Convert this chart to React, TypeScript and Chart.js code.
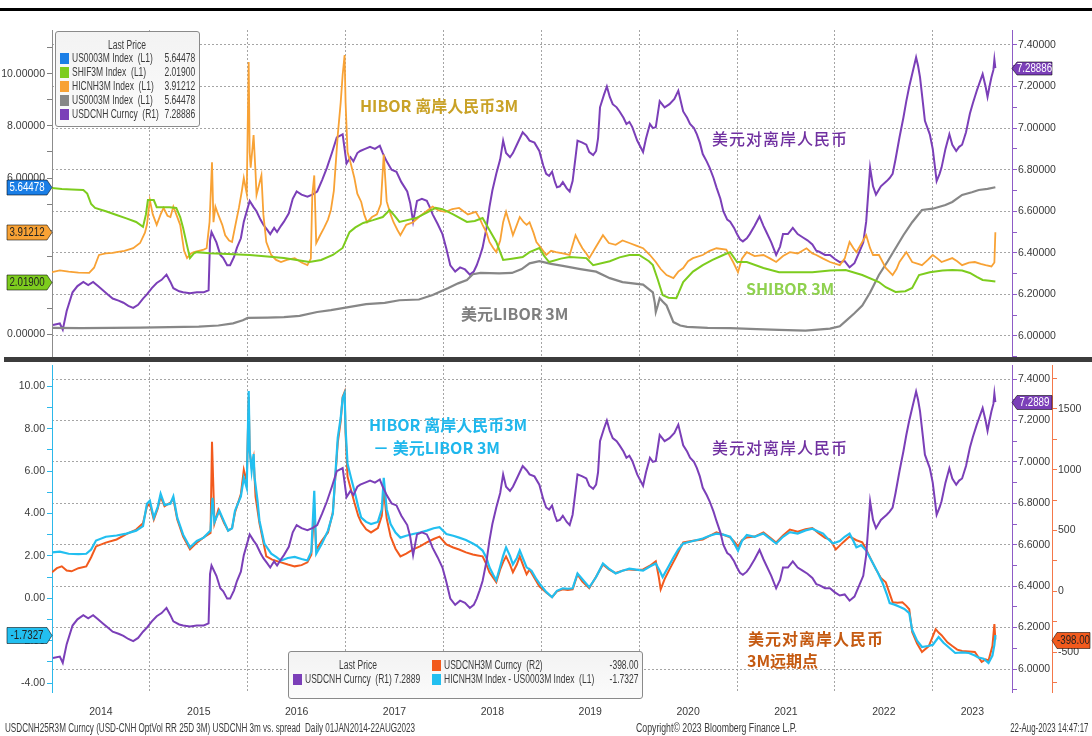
import React, { useEffect, useLayoutEffect, useRef, useState } from 'react';
import { Chart, registerables } from 'chart.js';

Chart.register(...registerables);

const SANS = '"Liberation Sans", Arial, "DejaVu Sans", sans-serif';
const CJK = '"Noto Sans CJK SC", "Noto Sans", sans-serif';

// ---------------- X axis ----------------
const X_MIN = 2014.0;
const X_MAX = 2023.81;
const YEAR_LINES = [2015, 2016, 2017, 2018, 2019, 2020, 2021, 2022, 2023];
const YEAR_LABEL_POS = [2014.5, 2015.5, 2016.5, 2017.5, 2018.5, 2019.5, 2020.5, 2021.5, 2022.5, 2023.405];
const YEAR_LABELS = ['2014', '2015', '2016', '2017', '2018', '2019', '2020', '2021', '2022', '2023'];

// ---------------- Y axes ----------------
const TOP_L_TICKS = [0, 1, 2, 3, 4, 5, 6, 7, 8, 9, 10, 11];
const TOP_R_TICKS = [5.9, 6.0, 6.1, 6.2, 6.3, 6.4, 6.5, 6.6, 6.7, 6.8, 6.9, 7.0, 7.1, 7.2, 7.3, 7.4];
const BOT_L_TICKS = [-4, -3, -2, -1, 0, 1, 2, 3, 4, 5, 6, 7, 8, 9, 10];
const BOT_R_TICKS = [5.9, 6.0, 6.1, 6.2, 6.3, 6.4, 6.5, 6.6, 6.7, 6.8, 6.9, 7.0, 7.1, 7.2, 7.3, 7.4];
const BOT_R2_TICKS = [-750, -500, -250, 0, 250, 500, 750, 1000, 1250, 1500, 1750];

// ---------------- USDCNH (R1) ----------------
const cnhX = [
  2014.01, 2014.08, 2014.11, 2014.15, 2014.21, 2014.26, 2014.32, 2014.37, 2014.42, 2014.47, 2014.52, 2014.57, 2014.62, 2014.68,
  2014.73, 2014.78, 2014.83, 2014.88, 2014.93, 2014.97, 2015.02, 2015.07, 2015.12, 2015.17, 2015.21, 2015.24, 2015.30, 2015.34,
  2015.41, 2015.48, 2015.55, 2015.60, 2015.615, 2015.63, 2015.68, 2015.72, 2015.75, 2015.79, 2015.82, 2015.86, 2015.89, 2015.93,
  2015.96, 2016.02, 2016.06, 2016.09, 2016.13, 2016.16, 2016.20, 2016.23, 2016.27, 2016.30, 2016.34, 2016.37, 2016.42, 2016.46,
  2016.50, 2016.55, 2016.61, 2016.66, 2016.71, 2016.76, 2016.81, 2016.86, 2016.91, 2016.97, 2017.01, 2017.05, 2017.08, 2017.12,
  2017.15, 2017.20, 2017.25, 2017.30, 2017.35, 2017.38, 2017.42, 2017.47, 2017.52, 2017.57, 2017.63, 2017.66, 2017.69, 2017.73,
  2017.78, 2017.83, 2017.86, 2017.89, 2017.94, 2017.99, 2018.03, 2018.07, 2018.12, 2018.17, 2018.22, 2018.27, 2018.31, 2018.34,
  2018.37, 2018.40, 2018.44, 2018.47, 2018.50, 2018.54, 2018.58, 2018.61, 2018.64, 2018.68, 2018.71, 2018.75, 2018.78, 2018.81,
  2018.85, 2018.88, 2018.93, 2018.98, 2019.02, 2019.05, 2019.08, 2019.11, 2019.14, 2019.16, 2019.19, 2019.22, 2019.26, 2019.29,
  2019.32, 2019.35, 2019.37, 2019.42, 2019.46, 2019.49, 2019.53, 2019.56, 2019.58, 2019.60, 2019.64, 2019.67, 2019.70, 2019.73,
  2019.77, 2019.80, 2019.84, 2019.87, 2019.90, 2019.93, 2019.98, 2020.04, 2020.07, 2020.11, 2020.14, 2020.17, 2020.21, 2020.26,
  2020.31, 2020.36, 2020.40, 2020.43, 2020.45, 2020.49, 2020.52, 2020.56, 2020.59, 2020.62, 2020.65, 2020.69, 2020.72, 2020.76,
  2020.79, 2020.83, 2020.86, 2020.90, 2020.93, 2020.97, 2021.00, 2021.03, 2021.06, 2021.10, 2021.13, 2021.18, 2021.23, 2021.27,
  2021.30, 2021.35, 2021.40, 2021.44, 2021.47, 2021.52, 2021.57, 2021.62, 2021.67, 2021.72, 2021.77, 2021.81, 2021.84, 2021.90,
  2021.95, 2022.00, 2022.05, 2022.10, 2022.15, 2022.20, 2022.25, 2022.29, 2022.32, 2022.36, 2022.39, 2022.42, 2022.47, 2022.53,
  2022.56, 2022.59, 2022.62, 2022.66, 2022.70, 2022.73, 2022.76, 2022.79, 2022.83, 2022.85, 2022.87, 2022.90, 2022.92, 2022.97,
  2023.00, 2023.04, 2023.07, 2023.09, 2023.13, 2023.17, 2023.20, 2023.24, 2023.27, 2023.30, 2023.34, 2023.38, 2023.41, 2023.45,
  2023.48, 2023.51, 2023.54, 2023.56, 2023.58, 2023.60, 2023.62, 2023.63, 2023.64,
];
const cnhY = [
  6.053, 6.06, 6.03, 6.12, 6.21, 6.24, 6.26, 6.245, 6.26, 6.24, 6.22, 6.20, 6.18, 6.17,
  6.16, 6.145, 6.135, 6.15, 6.18, 6.20, 6.23, 6.255, 6.27, 6.295, 6.26, 6.23, 6.215, 6.21,
  6.205, 6.21, 6.21, 6.22, 6.46, 6.50, 6.45, 6.39, 6.375, 6.34, 6.34, 6.38, 6.425, 6.47,
  6.55, 6.65, 6.62, 6.60, 6.56, 6.535, 6.51, 6.49, 6.52, 6.50, 6.53, 6.55, 6.59, 6.66,
  6.695, 6.68, 6.67, 6.68, 6.695, 6.75, 6.81, 6.88, 6.955, 6.97, 6.83, 6.86, 6.84, 6.88,
  6.89, 6.90, 6.91, 6.90, 6.915, 6.88, 6.84, 6.80, 6.79, 6.74, 6.695, 6.64, 6.55, 6.65,
  6.66, 6.65, 6.62, 6.585, 6.54, 6.49, 6.42, 6.34, 6.31, 6.33, 6.32, 6.295, 6.31, 6.34,
  6.38, 6.425, 6.52, 6.62, 6.70, 6.78, 6.85, 6.94, 6.88, 6.86, 6.88, 6.92, 6.95, 6.98,
  6.96, 6.94, 6.93, 6.89, 6.82, 6.78, 6.77, 6.79, 6.74, 6.715, 6.72, 6.74, 6.71, 6.695,
  6.745, 6.86, 6.94, 6.93, 6.92, 6.885, 6.87, 6.89, 6.95, 7.10, 7.16, 7.20, 7.15, 7.115,
  7.10, 7.08, 7.05, 7.02, 7.03, 7.005, 6.94, 6.885, 6.95, 7.02, 7.00, 7.005, 7.13, 7.10,
  7.115, 7.14, 7.18, 7.12, 7.08, 7.05, 7.02, 7.00, 6.97, 6.93, 6.875, 6.84, 6.81, 6.76,
  6.715, 6.66, 6.60, 6.56, 6.55, 6.52, 6.49, 6.465, 6.455, 6.47, 6.49, 6.53, 6.575, 6.53,
  6.50, 6.45, 6.39, 6.43, 6.49, 6.49, 6.52, 6.49, 6.475, 6.46, 6.44, 6.41, 6.405, 6.39,
  6.39, 6.37, 6.355, 6.36, 6.33, 6.35, 6.405, 6.45, 6.55, 6.81, 6.72, 6.68, 6.72, 6.745,
  6.76, 6.78, 6.85, 6.955, 7.05, 7.13, 7.20, 7.26, 7.34, 7.30, 7.245, 7.12, 7.035, 6.97,
  6.90, 6.745, 6.78, 6.81, 6.90, 6.97, 6.92, 6.89, 6.91, 6.92, 6.98, 7.07, 7.12, 7.18,
  7.22, 7.26, 7.20, 7.15, 7.20, 7.245, 7.28, 7.33, 7.28886,
];

// ---------------- HICNH3M (L1, top) ----------------
const hiborX = [
  2014.00, 2014.08, 2014.17, 2014.27, 2014.38, 2014.43, 2014.48, 2014.55, 2014.62, 2014.66, 2014.74, 2014.83, 2014.90, 2014.95,
  2014.97, 2015.00, 2015.03, 2015.07, 2015.11, 2015.14, 2015.18, 2015.21, 2015.24, 2015.27, 2015.31, 2015.35, 2015.38, 2015.42,
  2015.45, 2015.50, 2015.55, 2015.58, 2015.61, 2015.635, 2015.65, 2015.67, 2015.70, 2015.74, 2015.77, 2015.81, 2015.84, 2015.88,
  2015.91, 2015.94, 2015.96, 2015.99, 2016.00, 2016.01, 2016.02, 2016.03, 2016.05, 2016.06, 2016.08, 2016.09, 2016.12, 2016.14,
  2016.16, 2016.19, 2016.24, 2016.29, 2016.34, 2016.40, 2016.48, 2016.55, 2016.61, 2016.645, 2016.66, 2016.68, 2016.70, 2016.74,
  2016.78, 2016.82, 2016.85, 2016.88, 2016.92, 2016.95, 2016.97, 2016.99, 2017.00, 2017.02, 2017.05, 2017.09, 2017.12, 2017.16,
  2017.19, 2017.22, 2017.27, 2017.32, 2017.36, 2017.39, 2017.42, 2017.46, 2017.49, 2017.53, 2017.56, 2017.62, 2017.69, 2017.75,
  2017.82, 2017.89, 2017.95, 2018.02, 2018.09, 2018.16, 2018.25, 2018.33, 2018.37, 2018.40, 2018.44, 2018.47, 2018.51, 2018.54,
  2018.58, 2018.61, 2018.64, 2018.68, 2018.71, 2018.75, 2018.78, 2018.82, 2018.85, 2018.88, 2018.92, 2018.95, 2019.00, 2019.05,
  2019.10, 2019.15, 2019.22, 2019.29, 2019.35, 2019.39, 2019.42, 2019.46, 2019.49, 2019.55, 2019.63, 2019.69, 2019.76, 2019.83,
  2019.90, 2019.97, 2020.04, 2020.11, 2020.17, 2020.22, 2020.28, 2020.35, 2020.40, 2020.45, 2020.50, 2020.55, 2020.65, 2020.72,
  2020.79, 2020.89, 2020.96, 2021.01, 2021.05, 2021.10, 2021.18, 2021.27, 2021.34, 2021.40, 2021.47, 2021.54, 2021.62, 2021.71,
  2021.77, 2021.81, 2021.88, 2021.95, 2022.05, 2022.10, 2022.15, 2022.19, 2022.22, 2022.28, 2022.32, 2022.36, 2022.39, 2022.45,
  2022.52, 2022.59, 2022.63, 2022.66, 2022.73, 2022.79, 2022.85, 2022.89, 2022.95, 2023.00, 2023.05, 2023.09, 2023.15, 2023.20,
  2023.25, 2023.30, 2023.37, 2023.43, 2023.49, 2023.54, 2023.60, 2023.63, 2023.64,
];
const hiborY = [
  2.38, 2.45, 2.40, 2.36, 2.35, 2.55, 3.04, 3.10, 3.12, 3.15, 3.20, 3.30, 3.50, 3.90,
  4.20, 5.15, 4.60, 4.20, 4.60, 4.85, 4.55, 4.50, 4.90, 4.60, 4.20, 3.20, 2.92, 3.10,
  3.15, 3.20, 3.25, 3.30, 4.30, 6.60, 4.30, 4.90, 4.58, 4.20, 3.80, 3.60, 3.54, 4.30,
  4.85, 5.50, 6.00, 5.40, 8.00, 10.46, 7.00, 6.40, 7.20, 7.65, 6.20, 5.35, 5.80, 6.10,
  4.60, 3.54, 3.04, 2.85, 2.77, 2.85, 2.92, 2.75, 2.65, 2.90, 5.35, 6.10, 3.50, 3.80,
  4.08, 4.40, 4.77, 5.50, 7.65, 8.90, 9.96, 10.73, 8.90, 7.00, 6.60, 6.00, 5.40, 5.08,
  4.60, 4.30, 4.50, 4.60, 5.00, 6.90, 5.10, 4.60, 4.30, 4.00, 3.80, 4.20, 4.30, 4.50,
  4.70, 4.90, 4.75, 4.70, 4.80, 4.85, 4.60, 4.70, 4.45, 4.20, 3.90, 3.54, 3.30, 3.15,
  3.60, 4.30, 4.70, 4.20, 3.80, 4.20, 4.50, 4.30, 4.20, 4.30, 3.90, 3.54, 3.30, 3.04,
  3.20, 3.15, 3.10, 3.04, 3.80, 3.50, 3.30, 3.10, 2.92, 3.30, 3.80, 3.50, 3.43, 3.60,
  3.50, 3.40, 3.30, 3.04, 2.77, 2.50, 2.27, 2.15, 2.40, 2.54, 2.80, 2.92, 3.04, 3.20,
  3.30, 3.25, 2.77, 2.38, 2.90, 3.15, 3.00, 3.04, 2.90, 2.77, 3.00, 3.15, 3.10, 3.30,
  3.10, 3.04, 2.90, 2.77, 2.65, 2.90, 3.54, 3.30, 3.15, 3.54, 3.80, 3.30, 3.04, 3.04,
  2.54, 2.27, 2.50, 2.77, 3.15, 2.77, 2.70, 2.65, 2.85, 3.04, 2.90, 2.77, 2.85, 2.92,
  2.80, 2.65, 2.75, 2.77, 2.70, 2.65, 2.60, 2.75, 3.91212,
];

// ---------------- SHIF3M (L1, top) ----------------
const shiborX = [
  2014.00, 2014.10, 2014.20, 2014.32, 2014.36, 2014.40, 2014.44, 2014.55, 2014.66, 2014.76, 2014.86, 2014.93, 2014.96, 2014.98,
  2015.04, 2015.07, 2015.20, 2015.27, 2015.31, 2015.34, 2015.38, 2015.41, 2015.45, 2015.48, 2015.61, 2015.80, 2016.02, 2016.20,
  2016.37, 2016.50, 2016.63, 2016.75, 2016.87, 2016.97, 2017.04, 2017.10, 2017.18, 2017.28, 2017.38, 2017.45, 2017.50, 2017.55,
  2017.63, 2017.72, 2017.82, 2017.92, 2017.99, 2018.10, 2018.24, 2018.32, 2018.40, 2018.47, 2018.54, 2018.61, 2018.70, 2018.81,
  2018.88, 2018.98, 2019.03, 2019.08, 2019.20, 2019.29, 2019.46, 2019.53, 2019.70, 2019.80, 2019.90, 2020.00, 2020.10, 2020.14,
  2020.19, 2020.24, 2020.30, 2020.38, 2020.45, 2020.55, 2020.65, 2020.75, 2020.86, 2020.93, 2021.00, 2021.10, 2021.27, 2021.43,
  2021.60, 2021.77, 2021.95, 2022.11, 2022.28, 2022.45, 2022.52, 2022.62, 2022.72, 2022.79, 2022.86, 2022.97, 2023.10, 2023.20,
  2023.30, 2023.38, 2023.45, 2023.51, 2023.58, 2023.64,
];
const shiborY = [
  5.62, 5.58, 5.56, 5.54, 5.40, 5.00, 4.85, 4.72, 4.58, 4.45, 4.31, 4.12, 4.60, 5.15,
  5.15, 4.88, 4.88, 4.85, 4.50, 4.08, 3.40, 2.92, 3.10, 3.15, 3.11, 3.08, 3.04, 2.98,
  2.92, 2.85, 2.77, 2.85, 3.04, 3.31, 3.92, 4.10, 4.27, 4.38, 4.50, 4.77, 4.55, 4.31,
  4.38, 4.46, 4.65, 4.85, 4.80, 4.60, 4.31, 4.35, 4.46, 4.00, 3.54, 2.85, 2.90, 2.96,
  3.15, 3.31, 3.00, 2.77, 2.90, 2.96, 2.92, 2.65, 2.80, 2.95, 3.04, 3.04, 2.80, 2.65,
  2.10, 1.50, 1.40, 1.38, 2.00, 2.40, 2.65, 2.85, 3.04, 3.15, 2.77, 2.77, 2.54, 2.38,
  2.38, 2.38, 2.44, 2.46, 2.27, 2.00, 1.80, 1.62, 1.65, 1.77, 2.27, 2.38, 2.44, 2.46,
  2.44, 2.35, 2.20, 2.08, 2.05, 2.019,
];

// ---------------- US0003M (L1, top) ----------------
const liborX = [
  2014.00, 2014.30, 2014.60, 2014.90, 2015.20, 2015.50, 2015.70, 2015.85, 2015.95, 2016.00, 2016.20, 2016.37, 2016.53, 2016.71,
  2016.85, 2016.97, 2017.21, 2017.40, 2017.55, 2017.75, 2017.89, 2018.05, 2018.15, 2018.24, 2018.30, 2018.38, 2018.57, 2018.70,
  2018.80, 2018.88, 2018.98, 2019.10, 2019.22, 2019.40, 2019.56, 2019.70, 2019.83, 2020.04, 2020.14, 2020.16, 2020.17, 2020.19,
  2020.21, 2020.24, 2020.28, 2020.35, 2020.42, 2020.49, 2020.70, 2020.93, 2021.20, 2021.43, 2021.70, 2021.95, 2022.05, 2022.11,
  2022.20, 2022.28, 2022.36, 2022.45, 2022.54, 2022.62, 2022.70, 2022.79, 2022.89, 2023.00, 2023.13, 2023.20, 2023.30, 2023.40,
  2023.47, 2023.56, 2023.64,
];
const liborY = [
  0.24, 0.23, 0.24, 0.25, 0.27, 0.29, 0.33, 0.41, 0.53, 0.62, 0.63, 0.65, 0.70, 0.85,
  0.92, 1.00, 1.15, 1.20, 1.30, 1.33, 1.50, 1.77, 1.95, 2.08, 2.30, 2.35, 2.33, 2.35,
  2.50, 2.72, 2.80, 2.70, 2.62, 2.50, 2.40, 2.15, 2.00, 1.90, 1.60, 1.20, 0.85, 1.10,
  1.38, 1.25, 1.10, 0.46, 0.33, 0.28, 0.24, 0.23, 0.19, 0.16, 0.13, 0.21, 0.30, 0.50,
  0.80, 1.10, 1.60, 2.27, 2.80, 3.30, 3.80, 4.30, 4.77, 4.82, 4.96, 5.08, 5.35, 5.45,
  5.54, 5.58, 5.64478,
];

// ---------------- HICNH3M - US0003M (L1, bottom) ----------------
const spreadX = [
  2014.00, 2014.08, 2014.17, 2014.27, 2014.35, 2014.40, 2014.45, 2014.55, 2014.66, 2014.76, 2014.86, 2014.93, 2014.97, 2015.00,
  2015.04, 2015.08, 2015.11, 2015.15, 2015.21, 2015.24, 2015.28, 2015.34, 2015.41, 2015.48, 2015.55, 2015.62, 2015.64, 2015.66,
  2015.71, 2015.76, 2015.80, 2015.84, 2015.87, 2015.93, 2015.96, 2015.99, 2016.01, 2016.02, 2016.04, 2016.06, 2016.07, 2016.10,
  2016.12, 2016.17, 2016.24, 2016.29, 2016.34, 2016.41, 2016.48, 2016.55, 2016.61, 2016.65, 2016.68, 2016.70, 2016.76, 2016.82,
  2016.87, 2016.92, 2016.95, 2016.97, 2016.99, 2017.00, 2017.02, 2017.06, 2017.09, 2017.13, 2017.16, 2017.21, 2017.26, 2017.33,
  2017.37, 2017.39, 2017.42, 2017.46, 2017.51, 2017.56, 2017.62, 2017.69, 2017.76, 2017.83, 2017.90, 2017.96, 2018.03, 2018.10,
  2018.16, 2018.23, 2018.30, 2018.35, 2018.40, 2018.44, 2018.47, 2018.51, 2018.54, 2018.58, 2018.61, 2018.64, 2018.68, 2018.71,
  2018.75, 2018.78, 2018.82, 2018.85, 2018.90, 2018.95, 2018.98, 2019.05, 2019.11, 2019.16, 2019.22, 2019.27, 2019.32, 2019.37,
  2019.42, 2019.49, 2019.56, 2019.63, 2019.69, 2019.76, 2019.83, 2019.90, 2019.97, 2020.04, 2020.11, 2020.17, 2020.21, 2020.24,
  2020.30, 2020.35, 2020.40, 2020.45, 2020.55, 2020.65, 2020.72, 2020.79, 2020.86, 2020.93, 2020.97, 2021.01, 2021.05, 2021.10,
  2021.18, 2021.27, 2021.34, 2021.40, 2021.47, 2021.54, 2021.62, 2021.70, 2021.77, 2021.83, 2021.88, 2021.93, 2021.98, 2022.05,
  2022.10, 2022.15, 2022.19, 2022.22, 2022.27, 2022.32, 2022.36, 2022.39, 2022.44, 2022.49, 2022.53, 2022.56, 2022.61, 2022.66,
  2022.71, 2022.76, 2022.79, 2022.84, 2022.89, 2022.95, 2023.00, 2023.06, 2023.11, 2023.16, 2023.23, 2023.30, 2023.37, 2023.43,
  2023.47, 2023.52, 2023.57, 2023.61, 2023.63, 2023.64,
];
const spreadY = [
  2.16, 2.20, 2.10, 2.08, 2.10, 2.30, 2.72, 2.90, 2.96, 3.05, 3.19, 3.40, 4.46, 4.60,
  3.80, 4.30, 4.93, 4.40, 4.46, 4.80, 3.80, 3.00, 2.40, 2.70, 2.86, 3.19, 4.74, 3.60,
  4.13, 3.60, 3.19, 3.30, 4.13, 4.80, 5.68, 5.20, 9.77, 7.00, 6.00, 6.80, 5.70, 4.60,
  3.66, 2.58, 2.10, 1.95, 1.78, 1.90, 1.95, 1.85, 1.78, 2.20, 5.07, 2.10, 2.60, 3.19,
  4.00, 7.56, 8.50, 9.44, 9.67, 8.00, 6.34, 5.60, 5.07, 4.30, 3.80, 3.60, 3.50, 3.60,
  4.20, 5.68, 4.20, 3.50, 3.10, 2.86, 2.95, 3.03, 3.10, 3.19, 3.30, 3.35, 3.03, 2.95,
  2.86, 2.75, 2.58, 2.45, 2.25, 1.90, 1.46, 1.10, 0.85, 1.50, 2.00, 2.40, 2.00, 1.60,
  1.90, 2.25, 1.80, 1.46, 1.30, 0.90, 0.70, 0.30, 0.05, 0.35, 0.47, 0.45, 0.47, 1.17,
  0.90, 0.52, 1.00, 1.64, 1.40, 1.17, 1.30, 1.40, 1.35, 1.30, 1.50, 1.64, 1.30, 1.00,
  1.50, 1.92, 2.30, 2.58, 2.70, 2.82, 2.95, 3.05, 3.00, 2.90, 2.60, 2.25, 2.70, 2.98,
  2.90, 3.05, 2.80, 2.58, 2.90, 3.12, 3.05, 3.20, 3.28, 3.15, 3.05, 2.80, 2.58, 2.70,
  2.90, 3.05, 2.70, 2.40, 2.50, 2.25, 1.90, 1.64, 1.20, 0.70, 0.20, -0.23, -0.30, -0.40,
  -0.50, -0.70, -1.50, -2.00, -2.30, -2.25, -2.20, -1.83, -2.10, -2.30, -2.58, -2.55, -2.58, -2.70,
  -2.80, -2.85, -3.05, -2.70, -2.20, -1.7327,
];

// ---------------- USDCNH3M forward points (R2, bottom) ----------------
const fwdX = [
  2014.00, 2014.05, 2014.10, 2014.15, 2014.20, 2014.27, 2014.35, 2014.40, 2014.45, 2014.55, 2014.66, 2014.76, 2014.86, 2014.93,
  2014.97, 2015.00, 2015.04, 2015.08, 2015.11, 2015.15, 2015.21, 2015.24, 2015.28, 2015.34, 2015.41, 2015.48, 2015.55, 2015.62,
  2015.635, 2015.66, 2015.70, 2015.76, 2015.80, 2015.84, 2015.87, 2015.93, 2015.96, 2015.99, 2016.01, 2016.02, 2016.04, 2016.06,
  2016.08, 2016.12, 2016.19, 2016.25, 2016.34, 2016.41, 2016.48, 2016.55, 2016.61, 2016.65, 2016.68, 2016.70, 2016.76, 2016.82,
  2016.87, 2016.92, 2016.95, 2016.97, 2016.99, 2017.00, 2017.02, 2017.06, 2017.09, 2017.13, 2017.16, 2017.21, 2017.26, 2017.33,
  2017.37, 2017.39, 2017.42, 2017.46, 2017.51, 2017.56, 2017.62, 2017.69, 2017.76, 2017.83, 2017.90, 2017.96, 2018.03, 2018.10,
  2018.16, 2018.23, 2018.30, 2018.35, 2018.40, 2018.44, 2018.47, 2018.51, 2018.54, 2018.58, 2018.61, 2018.64, 2018.68, 2018.71,
  2018.75, 2018.78, 2018.82, 2018.85, 2018.88, 2018.93, 2018.98, 2019.05, 2019.11, 2019.16, 2019.22, 2019.27, 2019.32, 2019.37,
  2019.42, 2019.49, 2019.56, 2019.63, 2019.69, 2019.76, 2019.83, 2019.90, 2019.97, 2020.04, 2020.11, 2020.17, 2020.20, 2020.22,
  2020.26, 2020.31, 2020.38, 2020.45, 2020.55, 2020.65, 2020.72, 2020.79, 2020.86, 2020.93, 2020.97, 2021.01, 2021.05, 2021.10,
  2021.18, 2021.27, 2021.34, 2021.40, 2021.47, 2021.54, 2021.62, 2021.70, 2021.77, 2021.83, 2021.90, 2021.95, 2022.01, 2022.08,
  2022.15, 2022.22, 2022.28, 2022.32, 2022.37, 2022.42, 2022.47, 2022.52, 2022.56, 2022.59, 2022.64, 2022.69, 2022.73, 2022.76,
  2022.79, 2022.84, 2022.89, 2022.96, 2023.03, 2023.06, 2023.09, 2023.15, 2023.20, 2023.25, 2023.30, 2023.37, 2023.43, 2023.50,
  2023.54, 2023.57, 2023.61, 2023.63, 2023.64,
];
const fwdY = [
  156, 190, 205, 170, 164, 190, 205, 280, 369, 400, 426, 470, 508, 560,
  697, 720, 590, 680, 779, 700, 730, 760, 590, 450, 344, 400, 443, 480,
  1230, 560, 672, 560, 500, 520, 648, 800, 1000, 900, 1598, 1150, 1024, 1100,
  779, 560, 287, 260, 238, 220, 205, 215, 238, 300, 672, 344, 420, 484,
  650, 1221, 1400, 1598, 1640, 1300, 943, 820, 730, 620, 565, 510, 484, 520,
  620, 836, 600, 450, 350, 287, 310, 344, 370, 402, 430, 450, 385, 360,
  344, 320, 303, 295, 287, 220, 156, 110, 74, 180, 240, 287, 220, 156,
  220, 287, 200, 140, 180, 110, 41, -10, -49, 0, 16, 10, 16, 139,
  80, 25, 120, 221, 180, 150, 170, 180, 175, 180, 210, 246, 120, 16,
  100, 180, 287, 402, 415, 426, 455, 484, 465, 443, 410, 369, 420, 443,
  450, 484, 440, 402, 460, 508, 490, 510, 520, 480, 440, 426, 344, 400,
  450, 420, 402, 344, 260, 180, 110, 74, -20, -90, -95, -90, -120, -148,
  -336, -430, -500, -451, -311, -340, -361, -420, -451, -480, -492, -495, -500, -582,
  -560, -570, -451, -270, -398,
];

// ---------------- styling ----------------
const C_PURPLE = '#7b3fb8';
const C_HIBOR = '#f8a235';
const C_GREEN = '#7dcc1e';
const C_GRAY = '#878787';
const C_BLUE = '#1a7ee6';
const C_CYAN = '#22bff0';
const C_FWD = '#f25a1d';
const C_GRID = '#a5a5a5';
const C_TEXT = '#3a3a3a';

const zip = (xs: number[], ys: number[]) => xs.map((x, i) => ({ x, y: ys[i] }));
const lineDs = (label: string, xs: number[], ys: number[], color: string, axis: string, width = 2) => ({
  label,
  data: zip(xs, ys),
  borderColor: color,
  backgroundColor: color,
  borderWidth: width,
  pointRadius: 0,
  pointHoverRadius: 0,
  yAxisID: axis,
  tension: 0,
  fill: false,
});
const setTicks = (list: number[]) => (s: any) => {
  s.ticks = list.map((v) => ({ value: v }));
};
const isMult = (v: number, m: number) => Math.abs(v / m - Math.round(v / m)) < 1e-6;
const last = (a: number[]) => a[a.length - 1];

type Tag = { axis: string; value: number; text: string; bg: string; fg: string; side: 'left' | 'right'; w: number; h: number };

const tagPlugin = (tags: Tag[]) => ({
  id: 'valueTags',
  afterDraw(chart: any) {
    const ctx = chart.ctx;
    tags.forEach((t) => {
      const sc = chart.scales[t.axis];
      const y = Math.round(sc.getPixelForValue(t.value)) + 0.5;
      const tip = t.side === 'left' ? sc.right : sc.left;
      const a = 5;
      const h2 = t.h / 2;
      ctx.save();
      ctx.beginPath();
      let cx;
      if (t.side === 'left') {
        const x1 = tip - t.w;
        ctx.moveTo(x1, y - h2);
        ctx.lineTo(tip - a, y - h2);
        ctx.lineTo(tip, y);
        ctx.lineTo(tip - a, y + h2);
        ctx.lineTo(x1, y + h2);
        cx = (x1 + tip - a) / 2;
      } else {
        const x2 = tip + t.w;
        ctx.moveTo(tip, y);
        ctx.lineTo(tip + a, y - h2);
        ctx.lineTo(x2, y - h2);
        ctx.lineTo(x2, y + h2);
        ctx.lineTo(tip + a, y + h2);
        cx = (tip + a + x2) / 2;
      }
      ctx.closePath();
      ctx.fillStyle = t.bg;
      ctx.fill();
      ctx.strokeStyle = 'rgba(0,0,0,0.55)';
      ctx.lineWidth = 1;
      ctx.stroke();
      ctx.translate(cx, y + 0.5);
      ctx.scale(0.78, 1);
      ctx.fillStyle = t.fg;
      ctx.font = `12.5px ${SANS}`;
      ctx.textAlign = 'center';
      ctx.textBaseline = 'middle';
      ctx.fillText(t.text, 0, 0);
      ctx.restore();
    });
  },
});

const tickFont = { family: SANS, size: 10.5 };

const xGridAxis = () => ({
  type: 'linear',
  position: 'bottom',
  min: X_MIN,
  max: X_MAX,
  afterBuildTicks: setTicks(YEAR_LINES),
  afterFit: (s: any) => {
    s.height = 0;
  },
  ticks: { display: false },
  grid: { color: C_GRID, drawTicks: false, borderDash: [2, 2], lineWidth: 1 },
  border: { display: false, dash: [2, 2] },
});

function TopChart() {
  const ref = useRef<HTMLCanvasElement>(null);
  useEffect(() => {
    const chart = new Chart(ref.current as HTMLCanvasElement, {
      type: 'line',
      data: {
        datasets: [
          lineDs('SHIF3M Index', shiborX, shiborY, C_GREEN, 'yL', 2),
          lineDs('HICNH3M Index', hiborX, hiborY, C_HIBOR, 'yL', 1.8),
          lineDs('US0003M Index', liborX, liborY, C_GRAY, 'yL', 2.2),
          lineDs('USDCNH Curncy', cnhX, cnhY, C_PURPLE, 'yR', 2),
        ] as any,
      },
      options: {
        animation: false,
        responsive: false,
        maintainAspectRatio: false,
        events: [],
        layout: { padding: { top: 30, bottom: 22, left: 0, right: 0 } },
        plugins: { legend: { display: false }, tooltip: { enabled: false } },
        scales: {
          x: xGridAxis() as any,
          yL: {
            type: 'linear',
            position: 'left',
            min: -0.92,
            max: 11.69,
            bounds: 'data',
            afterBuildTicks: setTicks(TOP_L_TICKS),
            afterFit: (s: any) => {
              s.width = 52;
            },
            ticks: {
              autoSkip: false,
              padding: 2,
              color: C_TEXT,
              font: tickFont,
              callback: (v: any) => (isMult(v, 2) ? Number(v).toFixed(5) : ''),
            },
            grid: { drawOnChartArea: false, tickLength: 5, tickColor: '#808080' },
            border: { color: '#8c8c8c', width: 1 },
          },
          yR: {
            type: 'linear',
            position: 'right',
            min: 5.894,
            max: 7.472,
            bounds: 'data',
            afterBuildTicks: setTicks(TOP_R_TICKS),
            afterFit: (s: any) => {
              s.width = 80;
            },
            ticks: {
              autoSkip: false,
              padding: 1,
              color: C_TEXT,
              font: tickFont,
              callback: (v: any) => (isMult(v, 0.2) ? Number(v).toFixed(5) : ''),
            },
            grid: {
              drawOnChartArea: true,
              color: (c: any) => (c.tick && isMult(c.tick.value, 0.2) ? C_GRID : 'rgba(0,0,0,0)'),
              tickColor: '#8e5cc6',
              tickLength: 5,
              tickBorderDash: [],
              borderDash: [2, 2],
            },
            border: { color: '#8e5cc6', width: 1, dash: [2, 2] },
          },
        } as any,
      },
      plugins: [
        tagPlugin([
          { axis: 'yL', value: last(liborY), text: last(liborY).toFixed(5), bg: C_BLUE, fg: '#ffffff', side: 'left', w: 45, h: 15 },
          { axis: 'yL', value: last(hiborY), text: last(hiborY).toFixed(5), bg: C_HIBOR, fg: '#222222', side: 'left', w: 45, h: 15 },
          { axis: 'yL', value: last(shiborY), text: last(shiborY).toFixed(5), bg: C_GREEN, fg: '#222222', side: 'left', w: 45, h: 15 },
          { axis: 'yR', value: last(cnhY), text: last(cnhY).toFixed(5), bg: C_PURPLE, fg: '#ffffff', side: 'right', w: 40, h: 13 },
        ]),
      ],
    });
    return () => chart.destroy();
  }, []);
  return <canvas ref={ref} width={1092} height={380} style={{ position: 'absolute', left: 0, top: 0 }} />;
}

function BottomChart() {
  const ref = useRef<HTMLCanvasElement>(null);
  useEffect(() => {
    const chart = new Chart(ref.current as HTMLCanvasElement, {
      type: 'line',
      data: {
        datasets: [
          lineDs('USDCNH Curncy', cnhX, cnhY, C_PURPLE, 'yR', 2),
          lineDs('HICNH3M Index - US0003M Index', spreadX, spreadY, C_CYAN, 'yL', 2.2),
          lineDs('USDCNH3M Curncy', fwdX, fwdY, C_FWD, 'yR2', 2),
        ] as any,
      },
      options: {
        animation: false,
        responsive: false,
        maintainAspectRatio: false,
        events: [],
        layout: { padding: { top: 20, bottom: 0, left: 0, right: 0 } },
        plugins: { legend: { display: false }, tooltip: { enabled: false } },
        scales: {
          x: xGridAxis() as any,
          x2: {
            type: 'linear',
            position: 'bottom',
            min: X_MIN,
            max: X_MAX,
            afterBuildTicks: setTicks(YEAR_LABEL_POS),
            afterFit: (s: any) => {
              s.height = 44;
            },
            ticks: {
              autoSkip: false,
              maxRotation: 0,
              padding: 14,
              color: C_TEXT,
              font: tickFont,
              callback: (_v: any, i: number) => YEAR_LABELS[i],
            },
            grid: { display: false, drawTicks: false },
            border: { display: false },
          },
          yL: {
            type: 'linear',
            position: 'left',
            min: -4.42,
            max: 11.0,
            bounds: 'data',
            afterBuildTicks: setTicks(BOT_L_TICKS),
            afterFit: (s: any) => {
              s.width = 52;
            },
            ticks: {
              autoSkip: false,
              padding: 2,
              color: C_TEXT,
              font: tickFont,
              callback: (v: any) => (isMult(v, 2) ? Number(v).toFixed(2) : ''),
            },
            grid: { drawOnChartArea: false, tickLength: 5, tickColor: '#2cb8ea' },
            border: { color: '#2cb8ea', width: 1 },
          },
          yR: {
            type: 'linear',
            position: 'right',
            weight: 0,
            min: 5.889,
            max: 7.468,
            bounds: 'data',
            afterBuildTicks: setTicks(BOT_R_TICKS),
            afterFit: (s: any) => {
              s.width = 40;
            },
            ticks: {
              autoSkip: false,
              padding: 1,
              color: C_TEXT,
              font: tickFont,
              callback: (v: any) => (isMult(v, 0.2) ? Number(v).toFixed(4) : ''),
            },
            grid: {
              drawOnChartArea: true,
              color: (c: any) => (c.tick && isMult(c.tick.value, 0.2) ? C_GRID : 'rgba(0,0,0,0)'),
              tickColor: '#8e5cc6',
              tickLength: 5,
              tickBorderDash: [],
              borderDash: [2, 2],
            },
            border: { color: '#8e5cc6', width: 1, dash: [2, 2] },
          },
          yR2: {
            type: 'linear',
            position: 'right',
            weight: 1,
            min: -829,
            max: 1862,
            bounds: 'data',
            afterBuildTicks: setTicks(BOT_R2_TICKS),
            afterFit: (s: any) => {
              s.width = 40;
            },
            ticks: {
              autoSkip: false,
              padding: 1,
              color: C_TEXT,
              font: tickFont,
              callback: (v: any) => (isMult(v, 500) ? String(v) : ''),
            },
            grid: { drawOnChartArea: false, tickLength: 5, tickColor: '#f4784a' },
            border: { color: '#f4784a', width: 1 },
          },
        } as any,
      },
      plugins: [
        tagPlugin([
          { axis: 'yL', value: last(spreadY), text: last(spreadY).toFixed(4), bg: C_CYAN, fg: '#222222', side: 'left', w: 45, h: 16 },
          { axis: 'yR', value: last(cnhY), text: last(cnhY).toFixed(4), bg: C_PURPLE, fg: '#ffffff', side: 'right', w: 40, h: 14 },
          { axis: 'yR2', value: last(fwdY), text: last(fwdY).toFixed(2), bg: C_FWD, fg: '#222222', side: 'right', w: 38, h: 16 },
        ]),
      ],
    });
    return () => chart.destroy();
  }, []);
  return <canvas ref={ref} width={1092} height={391} style={{ position: 'absolute', left: 0, top: 345 }} />;
}

// condensed text placed at page coordinates; align left (x = left edge), right (x = right edge) or center
function CT({ x, y, text, align = 'left', sx = 0.68, size = 12.5, fitWidth }: { x: number; y: number; text: string; align?: 'left' | 'right' | 'center'; sx?: number; size?: number; fitWidth?: number }) {
  const ref = useRef<HTMLSpanElement>(null);
  const [scale, setScale] = useState(sx);
  useLayoutEffect(() => {
    if (fitWidth && ref.current) {
      const w = ref.current.offsetWidth;
      if (w > 0) setScale(fitWidth / w);
    }
  }, [fitWidth, text]);
  const origin = align === 'left' ? 'left center' : align === 'right' ? 'right center' : 'center center';
  const base: React.CSSProperties = {
    position: 'absolute',
    top: y - 8,
    lineHeight: '16px',
    fontFamily: SANS,
    fontSize: size,
    color: C_TEXT,
    whiteSpace: 'pre',
    zIndex: 7,
    transformOrigin: origin,
  };
  const pos: React.CSSProperties =
    align === 'left'
      ? { left: x, transform: `scaleX(${scale})` }
      : align === 'right'
      ? { right: 1092 - x, transform: `scaleX(${scale})` }
      : { left: x, transform: `translateX(-50%) scaleX(${scale})` };
  return (
    <span ref={ref} style={{ ...base, ...pos }}>
      {text}
    </span>
  );
}

function Sw({ x, y, color }: { x: number; y: number; color: string }) {
  return <div style={{ position: 'absolute', left: x, top: y - 5, width: 9, height: 11, background: color, zIndex: 7 }} />;
}

const abs = (left: number, top: number): React.CSSProperties => ({
  position: 'absolute',
  left,
  top,
  whiteSpace: 'pre',
  zIndex: 5,
});

const note = (size: number, color: string, weight = 700, spacing = 0): React.CSSProperties => ({
  fontFamily: CJK,
  fontSize: size,
  color,
  fontWeight: weight,
  lineHeight: '18px',
  letterSpacing: spacing,
});

const TOP_LEGEND = [
  { color: C_BLUE, name: 'US0003M Index  (L1)', val: last(liborY).toFixed(5) },
  { color: C_GREEN, name: 'SHIF3M Index  (L1)', val: last(shiborY).toFixed(5) },
  { color: C_HIBOR, name: 'HICNH3M Index  (L1)', val: last(hiborY).toFixed(5) },
  { color: C_GRAY, name: 'US0003M Index  (L1)', val: last(liborY).toFixed(5) },
  { color: C_PURPLE, name: 'USDCNH Curncy  (R1)', val: last(cnhY).toFixed(5) },
];

const boxStyle = (left: number, top: number, w: number, h: number): React.CSSProperties => ({
  position: 'absolute',
  left,
  top,
  width: w,
  height: h,
  border: '1px solid #8a8a8a',
  borderRadius: 3,
  background: 'linear-gradient(#f3f3f3, #fbfbfb)',
  zIndex: 6,
  boxSizing: 'border-box',
});

export default function App() {
  return (
    <div style={{ position: 'fixed', left: 0, top: 0, width: 1092, height: 736, background: '#ffffff', overflow: 'hidden' }}>
      <div style={{ position: 'absolute', left: 0, top: 8, width: 1092, height: 3, background: '#000000', zIndex: 6 }} />
      <TopChart />
      <BottomChart />
      <div style={{ position: 'absolute', left: 4, top: 357, width: 1088, height: 5, background: '#3c3c3c', zIndex: 6 }} />

      {/* top legend */}
      <div style={boxStyle(55, 31, 145, 96)} />
      <CT x={127} y={45} text="Last Price" align="center" />
      {TOP_LEGEND.map((r, i) => (
        <React.Fragment key={i}>
          <Sw x={60} y={58 + i * 14} color={r.color} />
          <CT x={72} y={58 + i * 14} text={r.name} />
          <CT x={195} y={58 + i * 14} text={r.val} align="right" />
        </React.Fragment>
      ))}

      {/* bottom legend */}
      <div style={boxStyle(288, 651, 355, 48)} />
      <CT x={358} y={665} text="Last Price" align="center" />
      <Sw x={293} y={679} color={C_PURPLE} />
      <CT x={305} y={679} text={'USDCNH Curncy  (R1) ' + last(cnhY).toFixed(4)} />
      <Sw x={432} y={665} color={C_FWD} />
      <CT x={444} y={665} text="USDCNH3M Curncy  (R2)" />
      <CT x={638} y={665} text={last(fwdY).toFixed(2)} align="right" />
      <Sw x={432} y={679} color={C_CYAN} />
      <CT x={444} y={679} text="HICNH3M Index - US0003M Index  (L1)" />
      <CT x={638} y={679} text={last(spreadY).toFixed(4)} align="right" />

      {/* annotations top */}
      <div style={{ ...abs(360, 96), ...note(16, '#c9a227') }}>HIBOR 离岸人民币3M</div>
      <div style={{ ...abs(712, 129), ...note(16, '#7030a0', 500, 1) }}>美元对离岸人民币</div>
      <div style={{ ...abs(746, 279), ...note(16, '#8fd14f') }}>SHIBOR 3M</div>
      <div style={{ ...abs(461, 304), ...note(16, '#7f7f7f') }}>美元LIBOR 3M</div>

      {/* annotations bottom */}
      <div style={{ ...abs(369, 415), ...note(16, '#1fb7ec') }}>HIBOR 离岸人民币3M</div>
      <div style={{ ...abs(373, 438), ...note(16, '#1fb7ec') }}>－ 美元LIBOR 3M</div>
      <div style={{ ...abs(712, 438), ...note(16, '#7030a0', 500, 1) }}>美元对离岸人民币</div>
      <div style={{ ...abs(748, 629), ...note(16, '#c55a11', 700, 1) }}>美元对离岸人民币</div>
      <div style={{ ...abs(747, 651), ...note(16, '#c55a11') }}>3M远期点</div>

      {/* footer */}
      <CT x={5} y={728} size={12} text="USDCNH25R3M Curncy (USD-CNH OptVol RR 25D 3M) USDCNH 3m vs. spread  Daily 01JAN2014-22AUG2023" fitWidth={410} />
      <CT x={636} y={728} size={12} text="Copyright© 2023 Bloomberg Finance L.P." fitWidth={161} />
      <CT x={1088} y={728} size={12} text="22-Aug-2023 14:47:17" align="right" fitWidth={78} />
    </div>
  );
}
